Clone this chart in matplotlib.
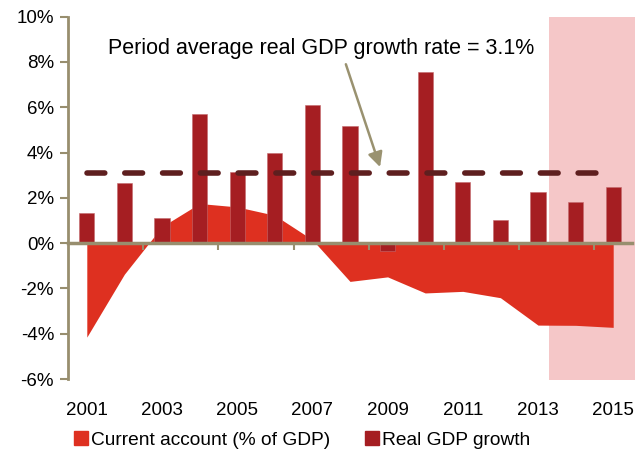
import matplotlib
matplotlib.use("Agg")
import matplotlib.pyplot as plt
import matplotlib.patches as mpatches
from matplotlib.transforms import blended_transform_factory
import numpy as np

plt.rcParams['font.family'] = ['Liberation Sans', 'DejaVu Sans']

years = ["2001", "2002", "2003", "2004", "2005", "2006", "2007", "2008",
         "2009", "2010", "2011", "2012", "2013", "2014", "2015"]
current_account = [-4.15, -1.37, 0.73, 1.75, 1.6, 1.23, 0.15, -1.69,
                   -1.49, -2.2, -2.13, -2.41, -3.62, -3.63, -3.72]
gdp_growth = [1.31, 2.65, 1.13, 5.70, 3.13, 3.96, 6.08, 5.17,
              -0.33, 7.56, 2.72, 1.03, 2.28, 1.80, 2.49]
avg_growth = 3.1
yticks = [-6, -4, -2, 0, 2, 4, 6, 8, 10]
shade_start = 12.29
shade_end = 14.58

AXC = '#988E6E'
CA_C = '#DE3020'
GDP_C = '#A51E22'
DASH_C = '#5E1F1F'
SHADE_C = '#F5C7C8'

fig = plt.figure(figsize=(6.37, 4.57), dpi=100)
ax = fig.add_axes([68/637, 1-379/457, (632-68)/637, (379-16.7)/457])

x = np.arange(len(years))

# shaded forecast region
ax.add_patch(mpatches.Rectangle((shade_start, -6.05), shade_end - shade_start, 16.05,
                                facecolor=SHADE_C, edgecolor='none', zorder=0, clip_on=False))

ax.fill_between(x, current_account, 0, color=CA_C, linewidth=0, zorder=2)
ax.bar(x, gdp_growth, width=0.4, color=GDP_C, edgecolor='#C46A6D', linewidth=0.4, zorder=3)
ax.plot([x[0], x[-1] - 0.1], [avg_growth, avg_growth], color=DASH_C, lw=4,
        dashes=(3.2, 3.6), dash_capstyle='round', zorder=4)

ax.set_xlim(-0.5, len(years) - 0.5)
ax.set_ylim(-6, 10)

for s in ['top', 'right']:
    ax.spines[s].set_visible(False)
ax.spines['left'].set_color(AXC)
ax.spines['left'].set_linewidth(2)
ax.spines['bottom'].set_position(('data', 0))
ax.spines['bottom'].set_color(AXC)
ax.spines['bottom'].set_linewidth(2.5)
ax.spines['bottom'].set_zorder(5)
ax.xaxis.set_zorder(5)

ax.set_yticks(yticks)
ax.set_yticklabels([f"{v}%" for v in yticks], fontsize=13.5)
ax.tick_params(axis='y', direction='out', length=6, width=1.5, color=AXC, pad=4)

ax.set_xticks(np.arange(1.5, len(years), 2))
ax.set_xticklabels([])
ax.tick_params(axis='x', direction='out', length=5, width=1.5, color=AXC)

trans = blended_transform_factory(ax.transData, ax.transAxes)
for i in range(0, len(years), 2):
    ax.text(x[i], -0.088, years[i], transform=trans, ha='center', va='center', fontsize=13.5)

ax.annotate("", xy=(7.80, 3.36), xytext=(6.89, 7.9),
            arrowprops=dict(arrowstyle='-|>', color='#9A9270', lw=1.8,
                            mutation_scale=22, shrinkA=0, shrinkB=0), zorder=6)
ax.text(6.24, 8.6, "Period average real GDP growth rate = 3.1%", ha='center', va='center',
        fontsize=15.5)

handles = [mpatches.Patch(color=CA_C, label='Current account (% of GDP)'),
           mpatches.Patch(color=GDP_C, label='Real GDP growth')]
fig.legend(handles=handles, loc='center', bbox_to_anchor=(302.5/637, 1 - 440/457), ncol=2,
           frameon=False, fontsize=13.8, handlelength=0.7, handleheight=0.7,
           handletextpad=0.2, columnspacing=1.8)

fig.savefig("out.png", dpi=100)
